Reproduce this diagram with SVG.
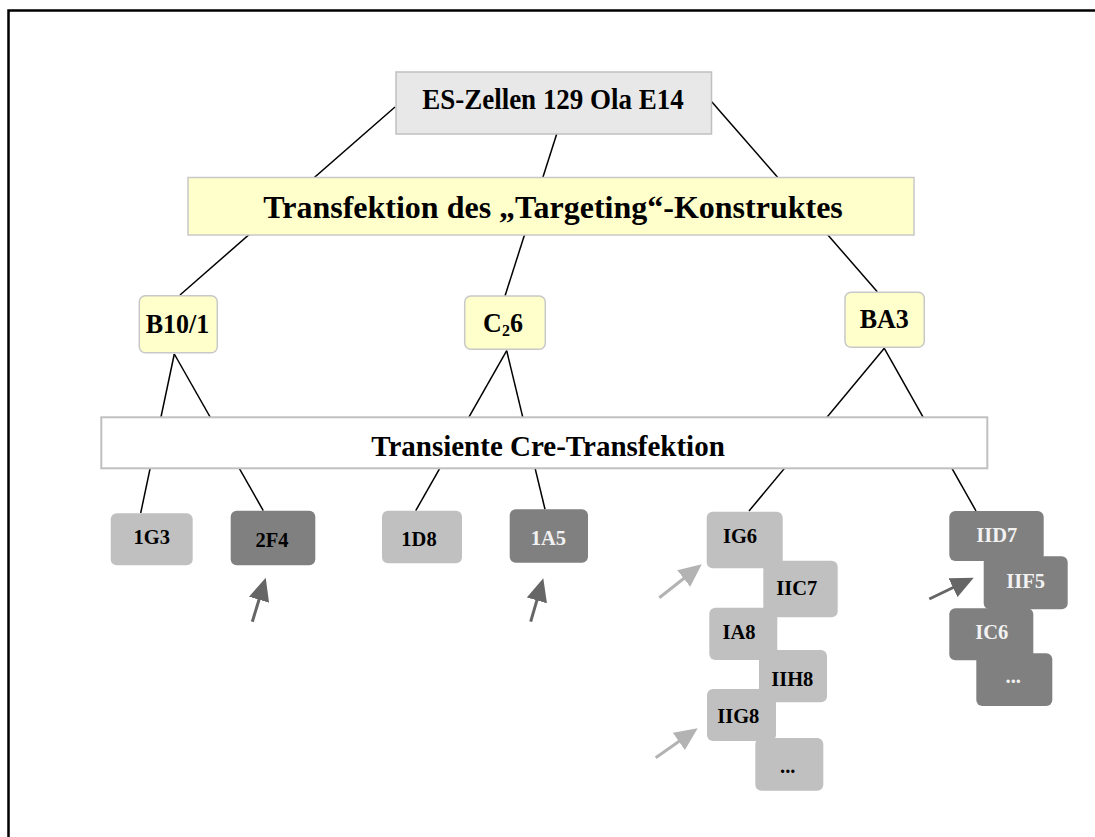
<svg xmlns="http://www.w3.org/2000/svg" width="1095" height="837" viewBox="0 0 1095 837">
<defs>
<style>
.t{font-family:"Liberation Serif","Times New Roman",serif;font-weight:bold;text-anchor:middle}
.conn line{stroke:#000;stroke-width:1.5}
.yb{fill:#ffffcc;stroke:#c8c8c8;stroke-width:1.5}
.lg{fill:#c0c0c0}
.dg{fill:#808080}
.wt{fill:#f2f2f2}
.s20{font-size:20.5px}
.s26{font-size:26px}
.ad{stroke:#666666;stroke-width:3}
.al{stroke:#b3b3b3;stroke-width:3}
</style>
<marker id="hd" markerUnits="userSpaceOnUse" markerWidth="23" markerHeight="21" refX="13" refY="10.5" orient="auto" viewBox="0 0 23 21"><path d="M0,0 L23,10.5 L0,21 z" fill="#666666"/></marker>
<marker id="hl" markerUnits="userSpaceOnUse" markerWidth="23" markerHeight="21" refX="13" refY="10.5" orient="auto" viewBox="0 0 23 21"><path d="M0,0 L23,10.5 L0,21 z" fill="#b3b3b3"/></marker>
</defs>
<rect width="1095" height="837" fill="#fff"/>
<path d="M8.5,837 V10.5 H1095" fill="none" stroke="#000" stroke-width="2.5"/>
<g id="connectors" class="conn">
<line x1="395" y1="107" x2="180" y2="295"/>
<line x1="556.7" y1="134" x2="505" y2="296"/>
<line x1="711.7" y1="101.7" x2="877.3" y2="291.7"/>
<line x1="174.3" y1="354" x2="140.7" y2="513"/>
<line x1="174.3" y1="354" x2="263.3" y2="510.7"/>
<line x1="506.7" y1="350.7" x2="415.7" y2="510.7"/>
<line x1="506.7" y1="350.7" x2="545" y2="509.3"/>
<line x1="884.3" y1="348.3" x2="749" y2="511"/>
<line x1="884.3" y1="348.3" x2="976" y2="511"/>
</g>
<g id="es">
<rect x="396" y="72" width="315.5" height="62" fill="#e8e8e8" stroke="#c0c0c0" stroke-width="1.5"/>
<text class="t" transform="translate(553,108.5) scale(1,1.06)" font-size="27">ES-Zellen 129 Ola E14</text>
</g>
<g id="transfektion">
<rect class="yb" x="188" y="177.5" width="726" height="57.5"/>
<text class="t" x="553" y="218" font-size="32">Transfektion des „Targeting“-Konstruktes</text>
</g>
<g id="b101">
<rect class="yb" x="139.3" y="295.7" width="78" height="57" rx="6"/>
<text class="t s26" transform="translate(177.5,332.7) scale(1,1.09)">B10/1</text>
</g>
<g id="c26">
<rect class="yb" x="464.7" y="296" width="80.6" height="53.3" rx="6"/>
<text class="t s26" transform="translate(503,332) scale(1,1.09)">C<tspan font-size="16" dy="4">2</tspan><tspan dy="-4">6</tspan></text>
</g>
<g id="ba3">
<rect class="yb" x="845" y="292.3" width="79.3" height="55" rx="6"/>
<text class="t s26" transform="translate(884.3,327.7) scale(1,1.09)">BA3</text>
</g>
<g id="transiente">
<rect x="101.3" y="417.3" width="886" height="51" fill="#fff" stroke="#c0c0c0" stroke-width="2"/>
<text class="t" x="548" y="455.7" font-size="29">Transiente Cre-Transfektion</text>
</g>
<g id="n1G3">
<rect class="lg" x="110.7" y="513.3" width="82" height="52" rx="6"/>
<text class="t s20" x="151.7" y="544.3">1G3</text>
</g>
<g id="n2F4">
<rect class="dg" x="230.7" y="510.7" width="84.6" height="54.6" rx="6"/>
<text class="t s20" x="272" y="547.3">2F4</text>
</g>
<g id="n1D8">
<rect class="lg" x="382" y="510.7" width="80" height="52.6" rx="6"/>
<text class="t s20" x="419" y="546">1D8</text>
</g>
<g id="n1A5">
<rect class="dg" x="509.7" y="509.3" width="78.3" height="53.4" rx="6"/>
<text class="t s20 wt" x="548.3" y="545">1A5</text>
</g>
<g id="nIIC7">
<rect class="lg" x="763.3" y="560.7" width="74.4" height="56.6" rx="6"/>
<text class="t s20" x="796.7" y="595">IIC7</text>
</g>
<g id="nIG6">
<rect class="lg" x="706.7" y="511.7" width="76" height="56.6" rx="6"/>
<text class="t s20" x="740" y="543.3">IG6</text>
</g>
<g id="nIIH8">
<rect class="lg" x="759" y="650" width="68" height="52.3" rx="6"/>
<text class="t s20" x="792.3" y="685.7">IIH8</text>
</g>
<g id="nIA8">
<rect class="lg" x="709.3" y="607.7" width="68" height="52.3" rx="6"/>
<text class="t s20" x="739" y="639">IA8</text>
</g>
<g id="nDots1">
<rect class="lg" x="755.3" y="738" width="68" height="52.7" rx="6"/>
<text class="t s20" x="787.7" y="773">...</text>
</g>
<g id="nIIG8">
<rect class="lg" x="707" y="689" width="69" height="52" rx="6"/>
<text class="t s20" x="738.3" y="723.3">IIG8</text>
</g>
<g id="nIIF5">
<rect class="dg" x="983.7" y="556.3" width="84" height="53" rx="6"/>
<text class="t s20 wt" x="1025.7" y="587.7">IIF5</text>
</g>
<g id="nIID7">
<rect class="dg" x="949.3" y="511" width="94.4" height="50" rx="6"/>
<text class="t s20 wt" x="996.7" y="541.7">IID7</text>
</g>
<g id="nDots2">
<rect class="dg" x="976.3" y="653.3" width="76" height="52.7" rx="6"/>
<text class="t s20 wt" x="1013.3" y="683.3">...</text>
</g>
<g id="nIC6">
<rect class="dg" x="949.3" y="608.3" width="84" height="52" rx="6"/>
<text class="t s20 wt" x="991.7" y="639">IC6</text>
</g>
<g id="arrows">
<line class="ad" x1="252.3" y1="621.7" x2="262.8" y2="587.3" marker-end="url(#hd)"/>
<line class="ad" x1="530.7" y1="621.7" x2="540.5" y2="587.9" marker-end="url(#hd)"/>
<line class="al" x1="659.3" y1="597.7" x2="693.9" y2="570.5" marker-end="url(#hl)"/>
<line class="al" x1="655.7" y1="757.7" x2="689.5" y2="734" marker-end="url(#hl)"/>
<line class="ad" x1="929.3" y1="599" x2="964.7" y2="582" marker-end="url(#hd)"/>
</g>
</svg>
